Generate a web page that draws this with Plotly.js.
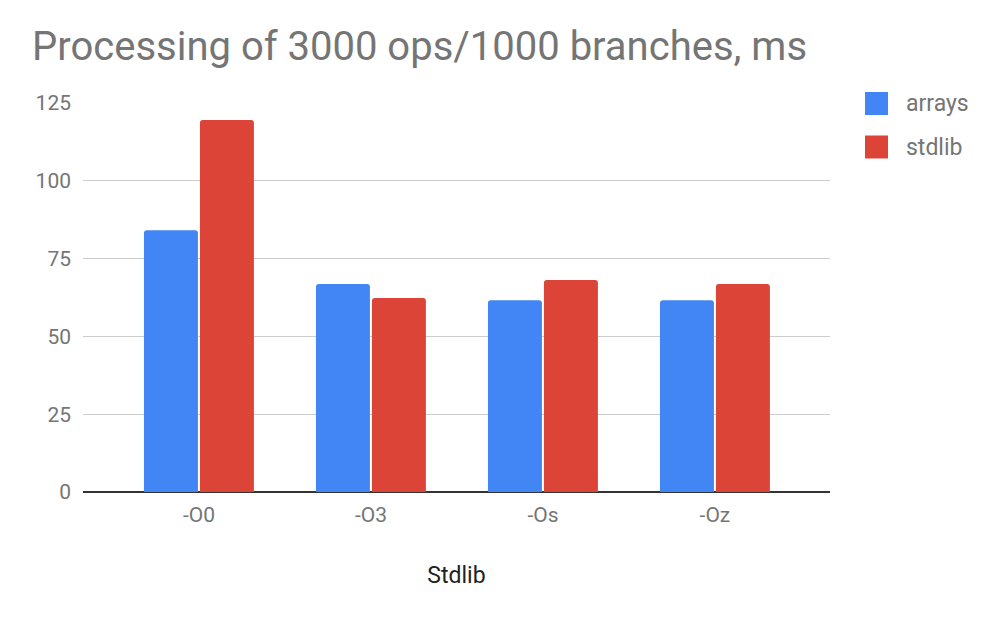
<!DOCTYPE html>
<html><head><meta charset="utf-8">
<script src="https://cdn.plot.ly/plotly-3.0.1.min.js"></script>
<style>html,body{margin:0;padding:0;background:#fff}#chart{width:1001px;height:618px}</style>
</head><body><div id="chart"></div>
<script>
const categories = ["-O0", "-O3", "-Os", "-Oz"];
const arraysValues = [84.1, 66.8, 61.6, 61.6];
const stdlibValues = [119.5, 62.3, 68.1, 66.8];
const seriesNames = ["arrays", "stdlib"];
const seriesColors = ["#4285F4", "#DB4437"];
const yTicks = [0, 25, 50, 75, 100, 125];

const font = "Roboto, 'Noto Sans', Arial, sans-serif";
const W = 1001, H = 618;
const M = {l: 83, r: 171, t: 103, b: 126};
const pw = W - M.l - M.r, ph = H - M.t - M.b;
const px2x = p => (p - M.l) / pw;
const px2y = p => (H - M.b - p) / ph;

const seriesValues = [arraysValues, stdlibValues];
const traces = seriesNames.map((n, i) => ({
  type: "bar", name: n, x: categories, y: seriesValues[i],
  marker: {color: seriesColors[i], cornerradius: 3}, hoverinfo: "y"
}));

// custom legend (larger keys like the reference)
const shapes = [], annotations = [];
seriesNames.forEach((n, i) => {
  const top = 92 + i * 43.5;
  shapes.push({type: "rect", xref: "paper", yref: "paper",
    x0: px2x(865), x1: px2x(888), y0: px2y(top), y1: px2y(top + 23),
    fillcolor: seriesColors[i], line: {width: 0}});
  annotations.push({xref: "paper", yref: "paper", x: px2x(904), y: px2y(top + 11.5),
    xanchor: "left", yanchor: "middle", showarrow: false, text: n,
    font: {size: 23, color: "#757575", family: font}});
});

const layout = {
  width: W, height: H,
  paper_bgcolor: "#fff", plot_bgcolor: "#fff",
  font: {family: font, color: "#757575", size: 21},
  title: {text: "Processing of 3000 ops/1000 branches, ms", x: 0.032, xanchor: "left",
          y: 0.925, yanchor: "middle", font: {family: font, size: 40, color: "#757575"}},
  margin: M,
  barmode: "group", bargap: 0.349, bargroupgap: 0.036,
  showlegend: false, shapes, annotations,
  xaxis: {type: "category", range: [-0.674, 3.669], showgrid: false, ticks: "",
          tickfont: {size: 21, color: "#757575"}, ticklabelstandoff: 8,
          showline: false, zeroline: false,
          title: {text: "Stdlib", font: {size: 23, color: "#222"}, standoff: 40}},
  yaxis: {range: [0, 125], tickvals: yTicks, ticktext: yTicks.map(String),
          showgrid: true, gridcolor: "#cccccc", gridwidth: 1,
          zeroline: true, zerolinecolor: "#333333", zerolinewidth: 2,
          ticks: "", tickfont: {size: 21, color: "#757575"}, ticklabelstandoff: 11,
          showline: false, fixedrange: true}
};
Plotly.newPlot("chart", traces, layout, {displayModeBar: false, staticPlot: true});
</script></body></html>
